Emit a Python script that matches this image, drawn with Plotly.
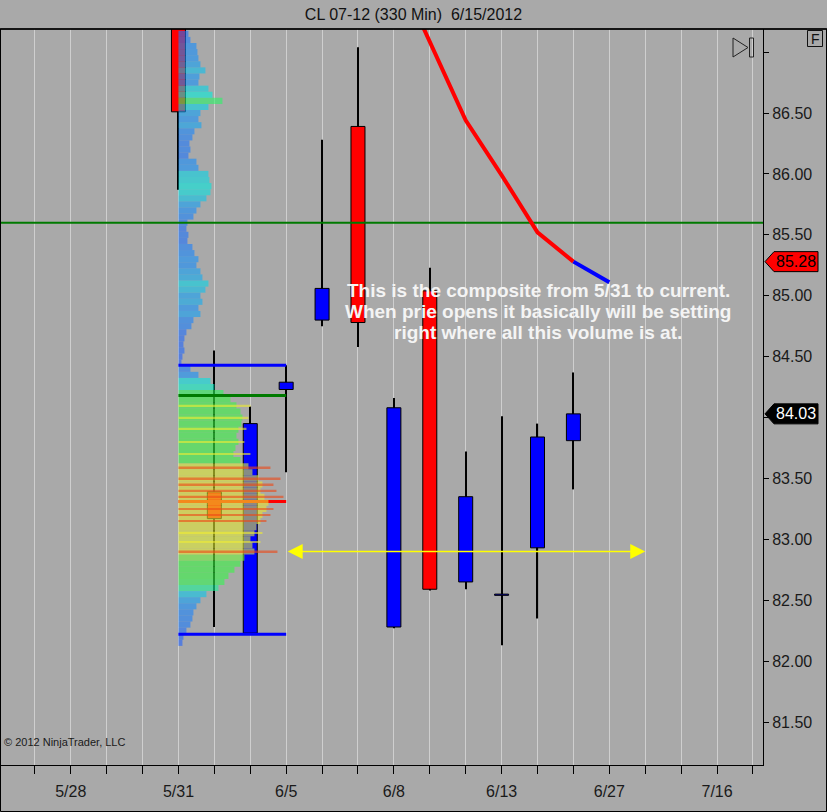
import plotly.graph_objects as go

# ---------------- data ----------------
bar_slots  = [5, 6, 7, 8, 9, 10, 11, 12, 13, 14, 15, 16]
bar_open   = [87.60, 83.39, 82.23, 84.23, 84.80, 86.39, 82.28, 85.04, 82.65, 82.54, 82.93, 83.81]
bar_high   = [87.80, 84.55, 84.09, 84.43, 86.28, 87.04, 84.16, 85.23, 83.72, 84.01, 83.95, 84.37]
bar_low    = [85.87, 82.28, 82.23, 83.55, 84.75, 84.58, 82.27, 82.58, 82.59, 82.13, 82.35, 83.41]
bar_close  = [86.51, 83.17, 83.95, 84.29, 85.06, 84.78, 84.08, 82.59, 83.35, 82.55, 83.84, 84.03]

ma_slots = [11, 12, 13, 14, 15, 16]
ma_vals  = [87.73, 87.08, 86.44, 85.99, 85.52, 85.28]
proj_slots = [16, 17]
proj_vals  = [85.28, 85.11]

profile_prices = [82.15, 82.20, 82.25, 82.30, 82.35, 82.40, 82.45, 82.50, 82.55, 82.60,
                  82.65, 82.70, 82.75, 82.80, 82.85, 82.90, 82.95, 83.00, 83.05, 83.10,
                  83.15, 83.20, 83.25, 83.30, 83.35, 83.40, 83.45, 83.50, 83.55, 83.60,
                  83.65, 83.70, 83.75, 83.80, 83.85, 83.90, 83.95, 84.00, 84.05, 84.10,
                  84.15, 84.20, 84.25, 84.30, 84.35, 84.40, 84.45, 84.50, 84.55, 84.60,
                  84.65, 84.70, 84.75, 84.80, 84.85, 84.90, 84.95, 85.00, 85.05, 85.10,
                  85.15, 85.20, 85.25, 85.30, 85.35, 85.40, 85.45, 85.50, 85.55, 85.60,
                  85.65, 85.70, 85.75, 85.80, 85.85, 85.90, 85.95, 86.00, 86.05, 86.10,
                  86.15, 86.20, 86.25, 86.30, 86.35, 86.40, 86.45, 86.50, 86.55, 86.60,
                  86.65, 86.70, 86.75, 86.80, 86.85, 86.90, 86.95, 87.00, 87.05, 87.10,
                  87.15]
profile_vols = [4, 5, 8, 12, 14, 15, 18, 22, 28, 40,
                46, 50, 56, 62, 66, 76, 74, 72, 76, 78,
                82, 84, 88, 90, 86, 82, 84, 80, 74, 70,
                62, 55, 57, 60, 58, 60, 63, 64, 62, 58,
                52, 45, 36, 32, 20, 12, 3, 4, 6, 5,
                6, 8, 13, 15, 22, 20, 24, 22, 27, 30,
                24, 22, 18, 20, 16, 14, 9, 10, 8, 9,
                15, 18, 22, 28, 32, 33, 31, 30, 20, 18,
                10, 12, 11, 14, 16, 23, 20, 22, 30, 44,
                34, 30, 20, 21, 27, 22, 20, 19, 18, 12,
                10]

hot_prices = [83.59, 83.50, 83.45, 83.40, 83.35, 83.25, 83.20, 83.15, 82.90]
hot_vols   = [92, 102, 95, 98, 105, 95, 92, 88, 99]
warm_prices = [84.10, 84.00, 83.91, 83.80, 83.70, 83.05, 82.98]
warm_vols   = [72, 70, 68, 66, 72, 84, 82]

poc_price = 83.31
va_high = 84.43
va_low = 82.22
composite_level = 84.18
resistance_level = 85.60
arrow_level = 82.90
profile_start, profile_end = 5, 8
arrow_from, arrow_to = 8, 18

x_tick_slots = [1, 2, 3, 4, 5, 6, 7, 8, 9, 10, 11, 12, 13, 14, 15, 16, 17, 18, 19, 20, 21]
x_tick_labels = ['', '5/28', '', '', '5/31', '', '', '6/5', '', '', '6/8', '', '', '6/13',
                 '', '', '6/27', '', '', '7/16', '']
y_tick_vals = [81.5, 82.0, 82.5, 83.0, 83.5, 84.0, 84.5, 85.0, 85.5, 86.0, 86.5, 87.0]
y_tick_labels = ['81.50', '82.00', '82.50', '83.00', '83.50', '', '84.50', '85.00',
                 '85.50', '86.00', '86.50', '']

last_price = 84.03
ma_last = 85.28

# ---------------- geometry / style ----------------
W, H = 827, 812
PL, PR, PT, PB = 1, 763, 29, 765          # plot area in pixels
X0, X1 = 0.058, 21.28
Y0, Y1 = 81.147, 87.19
PX_PER_SLOT = (PR - PL) / (X1 - X0)
PX_PER_PRICE = (PB - PT) / (Y1 - Y0)
BG = '#A9A9A9'
FONT = 'Liberation Sans, Arial, sans-serif'
PROFILE_ALPHA = 0.6


def pxx(px):
    return (px - PL) / (PR - PL)


def pxy(py):
    return (PB - py) / (PB - PT)


def price_paper(p):
    return (p - Y0) / (Y1 - Y0)


vol_to_slot = 1.0 / PX_PER_SLOT
fig = go.Figure()

# wicks (thin bars, drawn below bodies)
fig.add_trace(go.Bar(
    x=bar_slots, base=bar_low, y=[h - l for h, l in zip(bar_high, bar_low)],
    width=1.2 / PX_PER_SLOT, marker=dict(color='black', line=dict(width=0)),
    hoverinfo='skip'))

# bodies
body_base = [min(o, c) for o, c in zip(bar_open, bar_close)]
body_len = [abs(c - o) for o, c in zip(bar_open, bar_close)]
body_col = ['#0000FF' if c >= o else '#FF0000' for o, c in zip(bar_open, bar_close)]
fig.add_trace(go.Bar(
    x=bar_slots, base=body_base, y=body_len, width=14 / PX_PER_SLOT,
    marker=dict(color=body_col, line=dict(color='black', width=1)), hoverinfo='skip'))

# point of control line (under profile)
fig.add_trace(go.Bar(
    orientation='h', y=[poc_price], base=[profile_start], x=[profile_end - profile_start],
    width=3 / PX_PER_PRICE, marker=dict(color='#FF0000', line=dict(width=0)), hoverinfo='skip'))

# volume profile (semi transparent, drawn over candles)
cscale = [[0.0, 'rgb(37,87,254)'], [0.22, 'rgb(21,146,254)'], [0.38, 'rgb(4,241,221)'],
          [0.52, 'rgb(54,246,71)'], [0.71, 'rgb(60,246,66)'], [0.78, 'rgb(221,237,54)'],
          [1.0, 'rgb(237,229,46)']]
fig.add_trace(go.Bar(
    orientation='h', y=profile_prices, x=[v * vol_to_slot for v in profile_vols],
    base=profile_start, width=0.05,
    marker=dict(color=profile_vols, colorscale=cscale, cmin=0, cmax=90,
                opacity=PROFILE_ALPHA, line=dict(width=0)), hoverinfo='skip'))
fig.add_trace(go.Bar(
    orientation='h', y=warm_prices, x=[v * vol_to_slot for v in warm_vols],
    base=profile_start, width=1.4 / PX_PER_PRICE,
    marker=dict(color='rgb(240,236,50)', opacity=PROFILE_ALPHA, line=dict(width=0)),
    hoverinfo='skip'))
fig.add_trace(go.Bar(
    orientation='h', y=hot_prices, x=[v * vol_to_slot for v in hot_vols],
    base=profile_start, width=1.8 / PX_PER_PRICE,
    marker=dict(color='rgb(238,71,21)', opacity=PROFILE_ALPHA, line=dict(width=0)),
    hoverinfo='skip'))

# composite range lines
fig.add_trace(go.Scatter(x=[profile_start, profile_end, None, profile_start, profile_end],
                         y=[va_high, va_high, None, va_low, va_low], mode='lines',
                         line=dict(color='#0000FF', width=3), hoverinfo='skip'))
fig.add_trace(go.Scatter(x=[profile_start, profile_end], y=[composite_level, composite_level],
                         mode='lines', line=dict(color='#007A00', width=3), hoverinfo='skip'))
fig.add_trace(go.Scatter(x=[X0, X1], y=[resistance_level, resistance_level], mode='lines',
                         line=dict(color='#007A00', width=2), hoverinfo='skip'))

# moving average and projection
fig.add_trace(go.Scatter(x=ma_slots, y=ma_vals, mode='lines',
                         line=dict(color='#FF0000', width=4), hoverinfo='skip'))
fig.add_trace(go.Scatter(x=proj_slots, y=proj_vals, mode='lines',
                         line=dict(color='#0000FF', width=4), hoverinfo='skip'))

annotations = []
# yellow double arrow
annotations.append(dict(x=arrow_to, y=arrow_level, ax=arrow_from, ay=arrow_level,
                        xref='x', yref='y', axref='x', ayref='y', text='', showarrow=True,
                        arrowside='end+start', arrowhead=2, startarrowhead=2,
                        arrowsize=2.0, startarrowsize=2.0, arrowwidth=1.5,
                        arrowcolor='#FFFF00'))

# comment text
comment = ['This is the composite from 5/31 to current.',
           'When prie opens it basically will be setting',
           'right where all this volume is at.']
for line, py in zip(comment, [290, 311, 333]):
    annotations.append(dict(x=pxx(538), y=pxy(py), xref='paper', yref='paper', text=line,
                            showarrow=False, xanchor='center', yanchor='middle',
                            font=dict(family=FONT, size=19, color='#F4F4F4', weight='bold')))

shapes = []
# price tags on the right axis
for price, fill, tcol in [(ma_last, '#FF0000', '#000000'), (last_price, '#000000', '#FFFFFF')]:
    yc = price_paper(price)
    hh = 10 / (PB - PT)
    xl, xn, xr = pxx(765), pxx(774), pxx(818)
    shapes.append(dict(type='path', xref='paper', yref='paper', layer='above',
                       path=f'M{xl},{yc} L{xn},{yc + hh} L{xr},{yc + hh} L{xr},{yc - hh} L{xn},{yc - hh} Z',
                       fillcolor=fill, line=dict(color='black', width=1)))
    annotations.append(dict(x=pxx(796), y=yc, xref='paper', yref='paper',
                            text=f'{price:.2f}', showarrow=False, xanchor='center',
                            yanchor='middle', font=dict(family=FONT, size=16, color=tcol)))

# 'F' box
shapes.append(dict(type='rect', xref='paper', yref='paper', x0=pxx(807.5), x1=pxx(822.5),
                   y0=pxy(46.5), y1=pxy(30.5), line=dict(color='#111111', width=1)))
annotations.append(dict(x=pxx(815), y=pxy(38.5), xref='paper', yref='paper', text='F',
                        showarrow=False, xanchor='center', yanchor='middle',
                        font=dict(family=FONT, size=14, color='#111111')))
# scroll-to-end icon
shapes.append(dict(type='path', xref='paper', yref='paper',
                   path=f'M{pxx(733)},{pxy(38)} L{pxx(733)},{pxy(57)} L{pxx(748)},{pxy(47.5)} Z',
                   line=dict(color='#222222', width=1)))
shapes.append(dict(type='rect', xref='paper', yref='paper',
                   x0=pxx(749.5), x1=pxx(753.5), y0=pxy(38), y1=pxy(57),
                   line=dict(color='#222222', width=1)))
# frame
shapes.append(dict(type='line', xref='paper', yref='paper', x0=pxx(0), x1=pxx(827),
                   y0=1, y1=1, line=dict(color='black', width=1.5)))
shapes.append(dict(type='rect', xref='paper', yref='paper', x0=pxx(0.5), x1=pxx(826.5),
                   y0=pxy(811.5), y1=1, line=dict(color='black', width=1)))

# copyright
annotations.append(dict(x=pxx(2), y=pxy(742), xref='paper', yref='paper',
                        text='© 2012 NinjaTrader, LLC', showarrow=False, xanchor='left',
                        yanchor='middle', font=dict(family=FONT, size=11, color='#1A1A1A')))

fig.update_layout(
    width=W, height=H, margin=dict(l=PL, r=W - PR, t=PT, b=H - PB, pad=0),
    paper_bgcolor=BG, plot_bgcolor=BG, barmode='overlay', showlegend=False,
    hovermode=False,
    title=dict(text='CL 07-12 (330 Min)  6/15/2012', x=0.5, xanchor='center',
               y=1 - 14 / H, yanchor='middle',
               font=dict(family=FONT, size=16, color='#111111')),
    xaxis=dict(range=[X0, X1], tickmode='array', tickvals=x_tick_slots,
               ticktext=x_tick_labels, showgrid=True, gridcolor='#CFCFCF', gridwidth=1,
               zeroline=False, showline=True, linecolor='black', linewidth=1,
               ticks='outside', ticklen=8, tickcolor='black',
               tickfont=dict(family=FONT, size=16, color='#1A1A1A'), ticklabelstandoff=4),
    yaxis=dict(range=[Y0, Y1], side='right', tickmode='array', tickvals=y_tick_vals,
               ticktext=y_tick_labels, showgrid=False, zeroline=False, showline=True,
               linecolor='black', linewidth=1, ticks='outside', ticklen=5,
               tickcolor='black', tickfont=dict(family=FONT, size=16, color='#1A1A1A')),
    annotations=annotations, shapes=shapes,
)

fig.write_html('out.html', config={'displayModeBar': False},
               post_script="document.body.style.margin='0';document.body.style.overflow='hidden';")
